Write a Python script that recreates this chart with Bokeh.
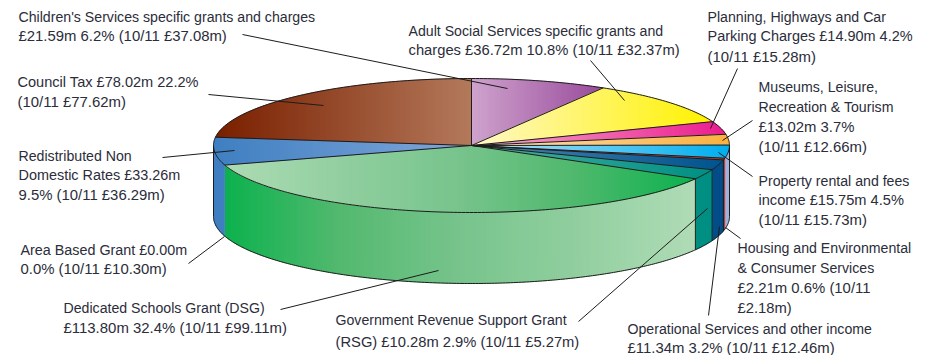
import numpy as np
from bokeh.core.properties import value
from bokeh.embed import file_html
from bokeh.models import ColumnDataSource
from bokeh.plotting import figure
from bokeh.resources import INLINE

# Income 2011/12, clockwise from twelve o'clock
slices = ["Children's Services", "Adult Social Services", "Planning, Highways and Car Parking",
          "Museums, Leisure, Recreation & Tourism", "Property rental and fees",
          "Housing and Environmental & Consumer", "Operational Services",
          "Government Revenue Support Grant", "Dedicated Schools Grant", "Area Based Grant",
          "Redistributed Non Domestic Rates", "Council Tax"]
percent = [6.2, 10.8, 4.2, 3.7, 4.5, 0.6, 3.2, 2.9, 32.4, 0.0, 9.5, 22.2]

label_lines = [
    ["Children's Services specific grants and charges", "£21.59m 6.2% (10/11 £37.08m)"],
    ["Adult Social Services specific grants and", "charges £36.72m 10.8% (10/11 £32.37m)"],
    ["Planning, Highways and Car", "Parking Charges £14.90m 4.2%", "(10/11 £15.28m)"],
    ["Museums, Leisure,", "Recreation & Tourism", "£13.02m 3.7%", "(10/11 £12.66m)"],
    ["Property rental and fees", "income £15.75m 4.5%", "(10/11 £15.73m)"],
    ["Housing and Environmental", "& Consumer Services", "£2.21m 0.6% (10/11", "£2.18m)"],
    ["Operational Services and other income", "£11.34m 3.2% (10/11 £12.46m)"],
    ["Government Revenue Support Grant", "(RSG) £10.28m 2.9% (10/11 £5.27m)"],
    ["Dedicated Schools Grant (DSG)", "£113.80m 32.4% (10/11 £99.11m)"],
    ["Area Based Grant £0.00m", "0.0% (10/11 £10.30m)"],
    ["Redistributed Non", "Domestic Rates £33.26m", "9.5% (10/11 £36.29m)"],
    ["Council Tax £78.02m 22.2%", "(10/11 £77.62m)"],
]

# Gradient colours of each slice, evenly spaced left to right across its own extent
top_colors = [("#cfa3cd", "#994b9c"), ("#fff8c8", "#fff200"), ("#f6b0d0", "#ec1c8e"),
              ("#fde2b8", "#fbb040"), ("#b8e6f8", "#00aeef"), ("#e8a898", "#d2341f"),
              ("#4f84b0", "#00548e"), ("#4aaea2", "#009084"),
              ("#aedbb4", "#92cfa0", "#78c48d", "#4fb96d", "#0db14f"),
              ("#ffffff", "#ffffff"), ("#3f7fc1", "#82a7da"), ("#7a2000", "#b47a5c")]
side_colors = [None, None, None, None, ("#a0b2dc", "#a0b2dc"), ("#b02a22", "#b02a22"),
               ("#004c88", "#004c88"), ("#009084", "#009084"),
               ("#0db14f", "#55ba70", "#78c48d", "#92cfa0", "#b0dcb6"),
               None, ("#3f7fc1", "#3f7fc1"), None]

# Placement of the labels and their leader lines, in page pixels
label_x = [18, 408, 707, 758, 758, 737, 627, 335, 63, 20, 18, 17]
label_y = [[16, 35], [30, 49], [16, 35, 56], [86, 106, 126, 146], [180, 199, 219],
           [247, 267, 287, 307], [328, 347], [319, 341], [307, 327], [249, 268],
           [155, 174, 194], [81, 101]]
leaders = [((242, 34), (507, 88)), ((590, 60), (624, 100)), ((737, 68), (710, 128)),
           ((752, 120), (722, 140)), ((752, 176), (718, 152)), ((740, 238), (725, 227)),
           ((708, 315), (719, 226)), ((578, 321), (707, 208)), ((280, 309), (438, 270)),
           ((188, 263), (224, 236)), ((162, 157), (234, 150)), ((208, 94), (323, 105))]

CX, CY, RX, RY, DEPTH = 471.0, 145.0, 258.0, 67.0, 71.0
FORESHORTEN = 1.45  # wedge directions are squeezed towards the long axis of the ellipse
STRIP = 2.0
EDGE = "#1c1c1c"
TEXT = "#2b2d3a"


def warp(theta):
    return np.mod(np.arctan2(FORESHORTEN * np.sin(theta), np.cos(theta)), 2 * np.pi)


def rim(phi, drop=0.0):
    return CX + RX * np.sin(phi), CY - RY * np.cos(phi) + drop


def mix(stops, t):
    pos = t * (len(stops) - 1)
    k = min(int(pos), len(stops) - 2)
    a = [int(stops[k][i:i + 2], 16) for i in (1, 3, 5)]
    b = [int(stops[k + 1][i:i + 2], 16) for i in (1, 3, 5)]
    return "#%02x%02x%02x" % tuple(int(round(u + (v - u) * (pos - k))) for u, v in zip(a, b))


def clip_half(poly, x0, keep_right):
    out = []
    n = len(poly)
    for i in range(n):
        p, q = poly[i], poly[(i + 1) % n]
        inside_p = p[0] >= x0 if keep_right else p[0] <= x0
        inside_q = q[0] >= x0 if keep_right else q[0] <= x0
        if inside_p:
            out.append(p)
        if inside_p != inside_q:
            t = (x0 - p[0]) / (q[0] - p[0])
            out.append((x0, p[1] + t * (q[1] - p[1])))
    return out


def add_gradient(xs_out, ys_out, cols_out, xs, ys, colors):
    """Cut a polygon into thin vertical strips that step through the colour stops."""
    poly = list(zip(xs, ys))
    lo, hi = min(xs), max(xs)
    span = max(hi - lo, 1e-6)
    for left in np.arange(lo, hi, STRIP):
        piece = clip_half(poly, left, True)
        if piece:
            piece = clip_half(piece, left + STRIP + 0.6, False)
        if len(piece) >= 3:
            xs_out.append([u for u, _ in piece])
            ys_out.append([v for _, v in piece])
            cols_out.append(mix(colors, min((left - lo + STRIP / 2) / span, 1.0)))


def line_size(line):
    # Lines heavy with figures set slightly larger, as the digits run wide
    digits = sum(ch.isdigit() for ch in line)
    return f"{14.15 + 1.5 * digits / len(line):.2f}px"


p = figure(width=928, height=355, x_range=(0, 928), y_range=(355, 0), output_backend="svg",
           toolbar_location=None, min_border=0, outline_line_color=None)
p.axis.visible = False
p.grid.visible = False

edges = 2 * np.pi * np.cumsum([0.0] + percent) / sum(percent)
strip_x, strip_y, strip_c = [], [], []
edge_x, edge_y = [], []

for i, colors in enumerate(side_colors):
    if colors is None:
        continue
    a = max(warp(edges[i]), np.pi / 2)
    b = min(warp(edges[i + 1]), 3 * np.pi / 2)
    phi = np.linspace(a, b, 120)
    x, y = rim(phi)
    xb, yb = rim(phi[::-1], DEPTH)
    add_gradient(strip_x, strip_y, strip_c, list(x) + list(xb), list(y) + list(yb), colors)

for i, colors in enumerate(top_colors):
    if percent[i] == 0:
        continue
    a, b = warp(edges[i]), warp(edges[i + 1])
    if b <= a:
        b += 2 * np.pi
    phi = np.linspace(a, b, 160)
    x, y = rim(phi)
    add_gradient(strip_x, strip_y, strip_c, [CX] + list(x), [CY] + list(y), colors)
    edge_x.append([CX, x[0]])
    edge_y.append([CY, y[0]])

p.patches(strip_x, strip_y, fill_color=strip_c, line_color=strip_c, line_width=0.4)

# Rim of the top face and lower rim of the drum
phi = np.linspace(0, 2 * np.pi, 400)
edge_x.append(list(rim(phi)[0]))
edge_y.append(list(rim(phi)[1]))
phi = np.linspace(np.pi / 2, 3 * np.pi / 2, 300)
edge_x.append(list(rim(phi, DEPTH)[0]))
edge_y.append(list(rim(phi, DEPTH)[1]))

# Silhouette and the seams that show on the drum
for phi0 in [np.pi / 2, 3 * np.pi / 2, warp(edges[6]), warp(edges[7]), warp(edges[8])]:
    x0, y0 = rim(phi0)
    edge_x.append([x0, x0])
    edge_y.append([y0, y0 + DEPTH])

p.multi_line(edge_x, edge_y, line_color=EDGE, line_width=1.0)

p.multi_line([[a[0], b[0]] for a, b in leaders], [[a[1], b[1]] for a, b in leaders],
             line_color=EDGE, line_width=1.0)

text_lines = [line for lines in label_lines for line in lines]
text_src = ColumnDataSource(dict(
    x=[label_x[i] for i, lines in enumerate(label_lines) for _ in lines],
    y=[yy for ys in label_y for yy in ys],
    t=text_lines,
    size=[line_size(line) for line in text_lines],
))
p.text("x", "y", text="t", source=text_src, text_font=value("Liberation Sans"),
       text_font_size="size", text_baseline="middle", text_color=TEXT)

open("out.html", "w").write(file_html(p, INLINE))
